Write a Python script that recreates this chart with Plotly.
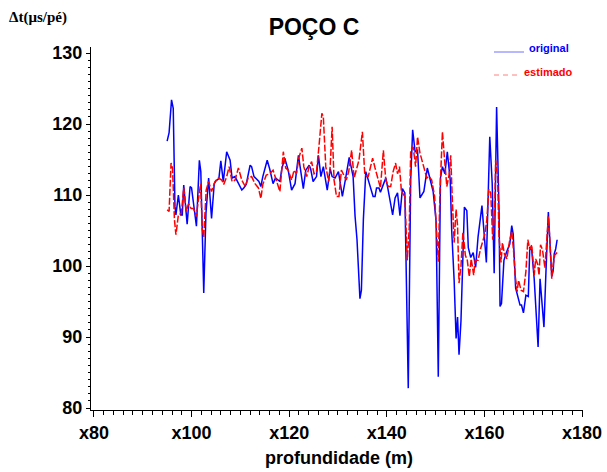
import plotly.graph_objects as go

# ---- data ----
depth_original = [95.0, 95.4, 95.9, 96.25, 96.6, 96.8, 97.3, 97.8, 98.1, 98.4, 99.1, 99.7, 100.0, 101.0, 101.6, 101.9,
    102.5, 102.95, 103.5, 104.1, 104.65, 105.0, 105.6, 106.0, 106.5, 107.2, 107.9, 108.3, 108.9, 109.4, 109.6,
    110.3, 110.7, 111.2, 112.0, 112.3, 112.8, 113.3, 113.8, 114.2, 114.6, 115.5, 116.0, 116.7, 117.2, 118.1,
    118.5, 119.1, 119.8, 120.5, 121.2, 121.9, 122.4, 122.9, 123.4, 124.1, 124.4, 124.9, 125.6, 126.0, 126.5,
    127.0, 127.8, 128.4, 128.8, 129.4, 130.1, 130.5, 130.9, 131.5, 132.3, 133.1, 133.5, 133.9, 134.5, 134.8,
    135.2, 135.7, 136.2, 136.7, 137.2, 137.6, 137.9, 138.4, 138.7, 139.3, 139.8, 140.2, 140.7, 141.2, 141.7,
    142.2, 142.7, 143.2, 143.7, 144.4, 144.9, 145.3, 145.8, 146.3, 146.8, 147.6, 148.3, 148.9, 149.5, 150.1,
    150.55, 151.0, 151.4, 151.9, 152.4, 153.0, 153.3, 153.8, 154.2, 154.5, 154.8, 155.2, 155.6, 155.9, 156.4,
    156.7, 157.2, 157.7, 158.2, 158.7, 159.5, 159.9, 160.4, 161.1, 161.6, 162.0, 162.5, 163.0, 163.2, 163.5,
    164.0, 164.5, 165.2, 165.6, 165.9, 166.4, 166.8, 167.3, 167.6, 168.0, 168.5, 169.0, 169.3, 169.7, 170.2,
    170.6, 171.0, 171.4, 171.7, 172.2, 172.6, 173.1, 173.4, 173.8, 174.1, 174.3, 174.6, 174.9]
dt_original = [117.6, 118.8, 123.4, 122.2, 108.4, 107.2, 110.0, 107.2, 107.2, 111.4, 105.9, 111.2, 111.0, 105.6, 114.9, 113.3,
    96.2, 107.4, 112.4, 106.7, 111.6, 112.0, 112.3, 114.8, 111.9, 116.1, 114.9, 112.4, 112.6, 111.9, 111.6,
    110.7, 111.0, 111.5, 114.2, 114.0, 112.6, 112.3, 111.9, 111.2, 112.6, 114.9, 113.7, 111.6, 112.4, 111.9,
    113.7, 115.2, 113.5, 110.7, 111.6, 115.6, 113.0, 110.9, 113.5, 114.2, 113.7, 111.9, 112.6, 115.6, 112.6,
    114.0, 110.7, 113.7, 112.6, 112.4, 113.3, 111.2, 109.8, 112.1, 115.3, 112.6, 107.0, 103.7, 95.4, 96.6,
    106.5, 113.3, 112.1, 111.0, 109.8, 109.8, 111.0, 111.0, 110.4, 111.5, 112.4, 111.0, 109.1, 107.2, 109.6,
    110.3, 107.1, 110.9, 110.3, 82.8, 112.1, 119.2, 116.1, 116.3, 109.6, 110.5, 113.8, 112.1, 110.5, 106.3,
    84.4, 112.4, 114.0, 113.0, 116.1, 112.1, 105.0, 98.0, 89.8, 92.8, 87.5, 92.3, 102.2, 108.3, 107.8,
    102.6, 101.2, 101.9, 99.8, 104.1, 108.5, 105.4, 100.5, 118.2, 111.6, 99.0, 122.4, 107.7, 94.3, 94.7,
    100.8, 101.9, 103.1, 105.7, 104.5, 96.9, 95.7, 94.5, 94.5, 93.4, 95.9, 95.7, 102.7, 102.2, 98.2,
    93.4, 88.6, 98.2, 95.7, 91.4, 99.0, 107.6, 103.7, 98.5, 99.4, 101.7, 102.4, 103.7]

depth_estimado = [95.0, 95.4, 95.8, 96.1, 96.5, 96.8, 97.3, 97.9, 98.4, 98.9, 99.4, 99.9, 100.4, 101.0, 101.3, 101.85,
    102.2, 102.5, 103.0, 103.5, 104.1, 104.8, 105.5, 106.2, 106.6, 107.2, 107.7, 108.3, 108.9, 109.6, 110.3,
    111.0, 111.6, 112.3, 113.0, 113.7, 114.2, 114.6, 115.3, 116.0, 116.7, 117.4, 118.1, 118.8, 119.3, 119.8,
    120.5, 121.0, 121.5, 122.0, 122.6, 123.0, 123.6, 124.1, 124.6, 125.1, 125.6, 126.1, 126.7, 127.0, 127.5,
    128.1, 128.4, 128.8, 129.2, 129.7, 130.2, 130.7, 131.2, 131.7, 132.2, 132.8, 133.3, 133.8, 134.3, 135.0,
    135.5, 136.2, 137.1, 137.6, 138.2, 138.7, 139.3, 139.8, 140.3, 140.8, 141.3, 141.8, 142.2, 142.6, 143.0,
    143.7, 144.2, 144.6, 144.9, 145.4, 145.9, 146.3, 146.8, 147.5, 148.2, 148.7, 149.2, 149.8, 150.2, 150.55,
    150.9, 151.4, 151.8, 152.3, 152.8, 153.1, 153.4, 153.8, 154.2, 154.5, 154.8, 155.2, 155.6, 156.1, 156.5,
    156.9, 157.3, 157.8, 158.1, 158.7, 159.2, 159.6, 160.1, 160.5, 160.9, 161.3, 161.7, 162.1, 162.3, 162.7,
    163.0, 163.4, 163.7, 164.1, 164.6, 165.1, 165.6, 166.0, 166.3, 166.7, 167.0, 167.5, 168.0, 168.5, 168.9,
    169.3, 169.7, 170.2, 170.5, 170.9, 171.2, 171.5, 171.9, 172.4, 172.7, 173.1, 173.4, 173.8, 174.1, 174.4, 174.9]
dt_estimado = [107.9, 107.7, 114.5, 113.8, 106.5, 104.4, 107.2, 107.4, 111.0, 107.7, 108.8, 108.1, 108.1, 107.0, 108.8, 111.6,
    105.2, 104.1, 110.7, 111.9, 110.5, 111.9, 112.4, 112.1, 111.5, 112.6, 114.0, 111.9, 112.1, 113.8, 112.1,
    111.2, 112.4, 112.6, 111.6, 111.0, 109.5, 111.5, 112.8, 113.0, 113.5, 112.1, 110.5, 116.1, 113.8, 113.5,
    112.1, 113.5, 113.0, 115.3, 116.6, 114.0, 112.6, 114.0, 114.7, 113.0, 113.3, 116.8, 121.5, 121.0, 114.0,
    111.9, 114.0, 119.6, 112.1, 109.8, 109.8, 113.5, 112.8, 112.1, 113.3, 116.3, 112.4, 113.8, 114.9, 118.9,
    112.8, 112.6, 115.2, 113.8, 112.1, 111.0, 116.3, 112.1, 111.2, 111.2, 113.3, 114.5, 113.0, 114.0, 110.5,
    109.8, 100.8, 105.4, 116.3, 116.8, 114.0, 118.2, 115.9, 114.0, 112.4, 112.6, 112.1, 109.8, 104.8, 100.6,
    110.5, 118.9, 115.3, 111.2, 113.0, 115.6, 109.8, 103.3, 108.0, 105.7, 97.6, 100.0, 104.8, 101.5, 100.8,
    98.5, 101.0, 98.7, 100.8, 100.8, 102.4, 103.3, 104.5, 106.5, 110.8, 110.3, 103.7, 107.5, 114.9, 112.6,
    104.1, 100.5, 103.3, 101.7, 101.0, 103.3, 104.9, 101.9, 98.7, 96.4, 98.0, 96.6, 96.4, 99.2, 103.7,
    102.3, 103.0, 98.7, 101.0, 100.3, 98.7, 103.0, 102.3, 99.7, 103.3, 107.0, 103.7, 98.2, 100.3, 101.5, 101.9]

x_tick_vals = [80, 100, 120, 140, 160, 180]
x_tick_text = ["x80", "x100", "x120", "x140", "x160", "x180"]
y_tick_vals = [80, 90, 100, 110, 120, 130]

W, H = 607, 472
L, R, T, B = 91, 24, 47, 62
pw, ph = W - L - R, H - T - B


def px(x):
    return (x - L) / pw


def py(y):
    return (H - B - y) / ph


fig = go.Figure()
fig.add_trace(go.Scatter(x=depth_original, y=dt_original, mode="lines", name="original",
                         line=dict(color="#0000ff", width=1.5)))
fig.add_trace(go.Scatter(x=depth_estimado, y=dt_estimado, mode="lines", name="estimado",
                         line=dict(color="#ff0000", width=1.5, dash="7px,2px")))

bold = "Liberation Sans, Arial, sans-serif"
fig.update_layout(
    width=W, height=H,
    margin=dict(l=L, r=R, t=T, b=B, autoexpand=False),
    paper_bgcolor="white", plot_bgcolor="white",
    showlegend=False,
    font=dict(family=bold, color="black"),
    title=dict(text="<b>POÇO C</b>", x=px(314), xref="paper", xanchor="center",
               y=1 - 27 / H, yanchor="middle", font=dict(size=23, family=bold, color="black")),
    xaxis=dict(range=[79.4, 180.2], tickmode="array", tickvals=x_tick_vals, ticktext=x_tick_text,
               showline=True, linecolor="black", linewidth=1, showgrid=False, zeroline=False,
               automargin=False,
               ticks="outside", ticklen=6, tickcolor="black", tickwidth=1,
               tickfont=dict(size=18, family=bold, color="black", weight="bold"),
               minor=dict(dtick=2, tick0=80, ticks="outside", ticklen=4, tickcolor="black", showgrid=False)),
    yaxis=dict(range=[79.72, 130.85], tickmode="array", tickvals=y_tick_vals,
               showline=True, linecolor="black", linewidth=1, showgrid=False, zeroline=False,
               automargin=False,
               ticks="outside", ticklen=4, tickcolor="black", tickwidth=1,
               tickfont=dict(size=18, family=bold, color="black", weight="bold"),
               minor=dict(dtick=1, tick0=80, ticks="outside", ticklen=2, tickcolor="black", showgrid=False)),
)

# x-axis title
fig.add_annotation(text="<b>profundidade (m)</b>", xref="paper", yref="paper", x=px(339), y=py(458),
                   xanchor="center", yanchor="middle", showarrow=False,
                   font=dict(size=18, family=bold, color="black"))

# y-axis label (top-left)
fig.add_annotation(text="<b>Δt(μs/pé)</b>", xref="paper", yref="paper", x=px(38), y=py(18),
                   xanchor="center", yanchor="middle", showarrow=False,
                   font=dict(size=15, family="Liberation Serif, Times New Roman, serif", color="black"))

# legend (drawn manually)
fig.add_shape(type="line", xref="paper", yref="paper", x0=px(494), x1=px(524), y0=py(52), y1=py(52),
              line=dict(color="#7070ff", width=1))
fig.add_annotation(text="<b>original</b>", xref="paper", yref="paper", x=px(527), y=py(48),
                   xanchor="left", yanchor="middle", showarrow=False,
                   font=dict(size=11, family=bold, color="#0000ff"))
fig.add_shape(type="line", xref="paper", yref="paper", x0=px(494), x1=px(521), y0=py(75), y1=py(75),
              line=dict(color="#ff8080", width=1, dash="5px,4px"))
fig.add_annotation(text="<b>estimado</b>", xref="paper", yref="paper", x=px(522), y=py(72),
                   xanchor="left", yanchor="middle", showarrow=False,
                   font=dict(size=11, family=bold, color="#ff0000"))

fig.write_html("out.html")
